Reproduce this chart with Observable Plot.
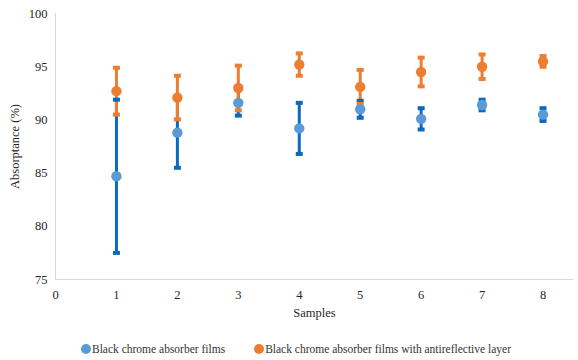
<!DOCTYPE html>
<html><head><meta charset="utf-8">
<script src="https://cdn.jsdelivr.net/npm/d3@7"></script>
<script src="https://cdn.jsdelivr.net/npm/@observablehq/plot@0.6"></script>
<style>
body{margin:0;background:#fff}
svg text{font-family:'Liberation Serif' !important}
</style></head>
<body style="margin:0;font-family:'Liberation Serif'"><div id="chart"></div>
<div id="legend" style="font-family:'Liberation Serif';display:flex;justify-content:center;align-items:center;gap:29px;font-size:11.5px;color:#333;height:38px;margin-left:14px"></div>
<script>
const samples = [1,2,3,4,5,6,7,8];
const seriesNames = ["Black chrome absorber films","Black chrome absorber films with antireflective layer"];
const blueMean = [84.7, 88.8, 91.6, 89.2, 91.0, 90.1, 91.4, 90.5];
const blueErr  = [7.2, 3.3, 1.2, 2.4, 0.8, 1.0, 0.5, 0.6];
const orangeMean = [92.7, 92.1, 93.0, 95.2, 93.1, 94.5, 95.0, 95.5];
const orangeErr  = [2.2, 2.05, 2.1, 1.05, 1.6, 1.35, 1.15, 0.5];
const xTicks = [0,1,2,3,4,5,6,7,8];
const yTicks = [75,80,85,90,95,100];
const dotColors = ["#5B9BD5","#ED7D31"];
const barColors = ["#0A6ABF","#ED7D31"];

const rows = [];
samples.forEach((s,i)=>{
  rows.push({sample:s, series:seriesNames[0], k:0, mean:blueMean[i], lo:blueMean[i]-blueErr[i], hi:blueMean[i]+blueErr[i]});
});
samples.forEach((s,i)=>{
  rows.push({sample:s, series:seriesNames[1], k:1, mean:orangeMean[i], lo:orangeMean[i]-orangeErr[i], hi:orangeMean[i]+orangeErr[i]});
});
const caps = rows.flatMap(d=>[{sample:d.sample,k:d.k,v:d.lo},{sample:d.sample,k:d.k,v:d.hi}]);
const capSymbol = {draw(ctx){ ctx.rect(-3.5,-2,7,4); }};

const plot = Plot.plot({
  width:578, height:330,
  marginLeft:55, marginRight:5, marginTop:13, marginBottom:51,
  style:{fontFamily:"Liberation Serif", fontSize:"12.5px", color:"#262626", background:"#fff"},
  x:{domain:[0,8.5], ticks:xTicks, tickSize:0, tickPadding:11, label:"Samples", labelAnchor:"center", labelArrow:"none", labelOffset:37},
  y:{domain:[75,100], ticks:yTicks, tickSize:0, tickPadding:8, label:"Absorptance (%)", labelAnchor:"center", labelArrow:"none", labelOffset:45},
  marks:[
    Plot.ruleX([0],{y1:75,y2:100,stroke:"#d9d9d9"}),
    Plot.ruleY([75],{x1:0,x2:8.5,stroke:"#d9d9d9"}),
    Plot.ruleX(rows,{x:"sample", y1:"lo", y2:"hi", stroke:d=>barColors[d.k], strokeWidth:3}),
    Plot.dot(caps,{x:"sample", y:"v", symbol:capSymbol, fill:d=>barColors[d.k], stroke:"none"}),
    Plot.dot(rows,{x:"sample", y:"mean", r:5.2, fill:d=>dotColors[d.k], stroke:"none"})
  ]
});
document.getElementById("chart").appendChild(plot);
const lg = document.getElementById("legend");
seriesNames.forEach((n,i)=>{
  const s=document.createElement("span");
  s.style.cssText="display:inline-flex;align-items:center";
  s.innerHTML = `<i style="display:inline-block;width:10px;height:10px;border-radius:50%;margin-right:1px;background:${dotColors[i]}"></i>${n}`;
  lg.appendChild(s);
});
</script></body></html>
